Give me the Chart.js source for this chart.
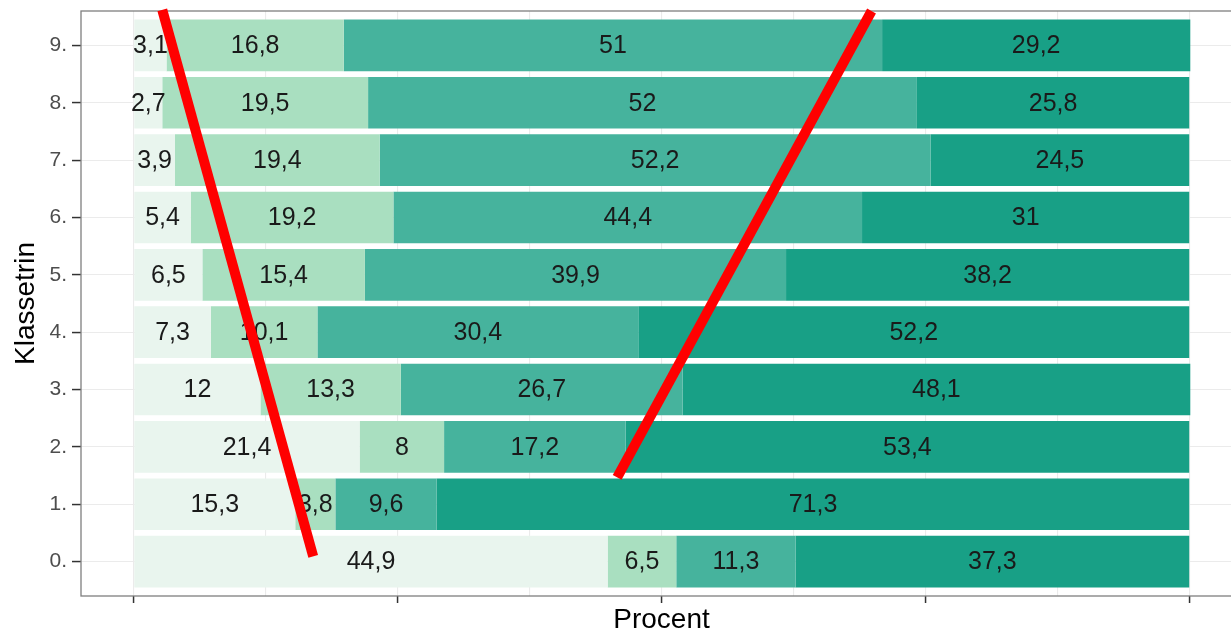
<!DOCTYPE html>
<html>
<head>
<meta charset="utf-8">
<script src="https://cdn.jsdelivr.net/npm/chart.js@4/dist/chart.umd.min.js"></script>
<style>
  html, body { margin: 0; padding: 0; background: #fff; overflow: hidden; }
  #wrap { width: 1242px; height: 634px; }
</style>
</head>
<body>
<div id="wrap"><canvas id="chart" width="1242" height="634"></canvas></div>
<script>
const klassetrin = ['0.', '1.', '2.', '3.', '4.', '5.', '6.', '7.', '8.', '9.'];

// andele i procent, en værdi pr. klassetrin (0. til 9.)
const andel1 = [44.9, 15.3, 21.4, 12, 7.3, 6.5, 5.4, 3.9, 2.7, 3.1];
const andel2 = [6.5, 3.8, 8, 13.3, 10.1, 15.4, 19.2, 19.4, 19.5, 16.8];
const andel3 = [11.3, 9.6, 17.2, 26.7, 30.4, 39.9, 44.4, 52.2, 52, 51];
const andel4 = [37.3, 71.3, 53.4, 48.1, 52.2, 38.2, 31, 24.5, 25.8, 29.2];

const serier = [andel1, andel2, andel3, andel4];
const farver = ['#e9f5ee', '#a9dfc0', '#46b39d', '#18a086'];

const xTicks = [0, 12.5, 25, 37.5, 50, 62.5, 75, 87.5, 100];

// de røde streger, endepunkter som [procent, klassetrin]
const roedStreg1 = [[2.7, 9.62], [17.0, 0.09]];
const roedStreg2 = [[69.9, 9.6], [45.8, 1.47]];

const skrift = '"Liberation Sans", Arial, sans-serif';

const rammePlugin = {
   id: 'ramme',
   afterDraw(chart) {
      const {ctx, chartArea} = chart;
      ctx.save();
      ctx.strokeStyle = '#7f7f7f';
      ctx.lineWidth = 1.3;
      ctx.strokeRect(chartArea.left, chartArea.top, chartArea.right - chartArea.left, chartArea.bottom - chartArea.top);
      ctx.restore();
   }
};

const etiketPlugin = {
   id: 'etiketter',
   afterDatasetsDraw(chart) {
      const ctx = chart.ctx;
      ctx.save();
      ctx.font = '25px ' + skrift;
      ctx.fillStyle = '#1a1a1a';
      ctx.textAlign = 'center';
      ctx.textBaseline = 'middle';
      chart.data.datasets.forEach((ds, i) => {
         chart.getDatasetMeta(i).data.forEach((bar, j) => {
            const tekst = String(ds.data[j].x).replace('.', ',');
            ctx.fillText(tekst, (bar.x + bar.base) / 2, bar.y + 1);
         });
      });
      ctx.restore();
   }
};

const stregPlugin = {
   id: 'roedeStreger',
   afterDraw(chart) {
      const {ctx, scales} = chart;
      ctx.save();
      ctx.strokeStyle = '#ff0000';
      ctx.lineWidth = 10;
      ctx.lineCap = 'butt';
      [roedStreg1, roedStreg2].forEach(streg => {
         ctx.beginPath();
         ctx.moveTo(scales.x.getPixelForValue(streg[0][0]), scales.y.getPixelForValue(streg[0][1]));
         ctx.lineTo(scales.x.getPixelForValue(streg[1][0]), scales.y.getPixelForValue(streg[1][1]));
         ctx.stroke();
      });
      ctx.restore();
   }
};

new Chart(document.getElementById('chart'), {
   type: 'bar',
   data: {
      datasets: serier.map((serie, i) => ({
         data: serie.map((v, k) => ({x: v, y: k})),
         backgroundColor: farver[i],
         borderWidth: 0,
         barPercentage: 0.9,
         categoryPercentage: 1
      }))
   },
   options: {
      indexAxis: 'y',
      responsive: false,
      animation: false,
      devicePixelRatio: 1,
      layout: {
         padding: {top: 11, right: 0, bottom: 0, left: 0}
      },
      plugins: {
         legend: {display: false},
         tooltip: {enabled: false}
      },
      scales: {
         x: {
            type: 'linear',
            stacked: true,
            min: -5,
            max: 105,
            afterBuildTicks: axis => { axis.ticks = xTicks.map(v => ({value: v})); },
            afterFit: axis => {
               axis.height = 38;
               axis.paddingLeft = 0;
               axis.paddingRight = 0;
            },
            ticks: {display: false},
            grid: {
               color: '#ebebeb',
               lineWidth: 1.1,
               tickLength: 7,
               tickWidth: 1.5,
               tickColor: c => (c.tick && c.tick.value % 25 === 0) ? '#333333' : 'rgba(0,0,0,0)'
            },
            border: {display: false},
            title: {
               display: true,
               text: 'Procent',
               color: '#000000',
               font: {size: 28, family: skrift, lineHeight: 1},
               padding: 0
            }
         },
         y: {
            type: 'linear',
            stacked: true,
            offset: false,
            min: -0.6,
            max: 9.6,
            afterBuildTicks: axis => { axis.ticks = klassetrin.map((l, k) => ({value: k})); },
            afterFit: axis => {
               axis.width = 81;
               axis.paddingTop = 0;
               axis.paddingBottom = 0;
            },
            ticks: {
               autoSkip: false,
               callback: v => klassetrin[v],
               color: '#4d4d4d',
               font: {size: 21, family: skrift},
               padding: 5
            },
            grid: {
               offset: false,
               color: '#ebebeb',
               lineWidth: 1.1,
               tickLength: 9,
               tickWidth: 1.5,
               tickColor: '#333333'
            },
            border: {display: false},
            title: {
               display: true,
               text: 'Klassetrin',
               color: '#000000',
               font: {size: 28, family: skrift, lineHeight: 1},
               padding: {top: 12, bottom: 0}
            }
         }
      }
   },
   plugins: [rammePlugin, etiketPlugin, stregPlugin]
});
</script>
</body>
</html>
